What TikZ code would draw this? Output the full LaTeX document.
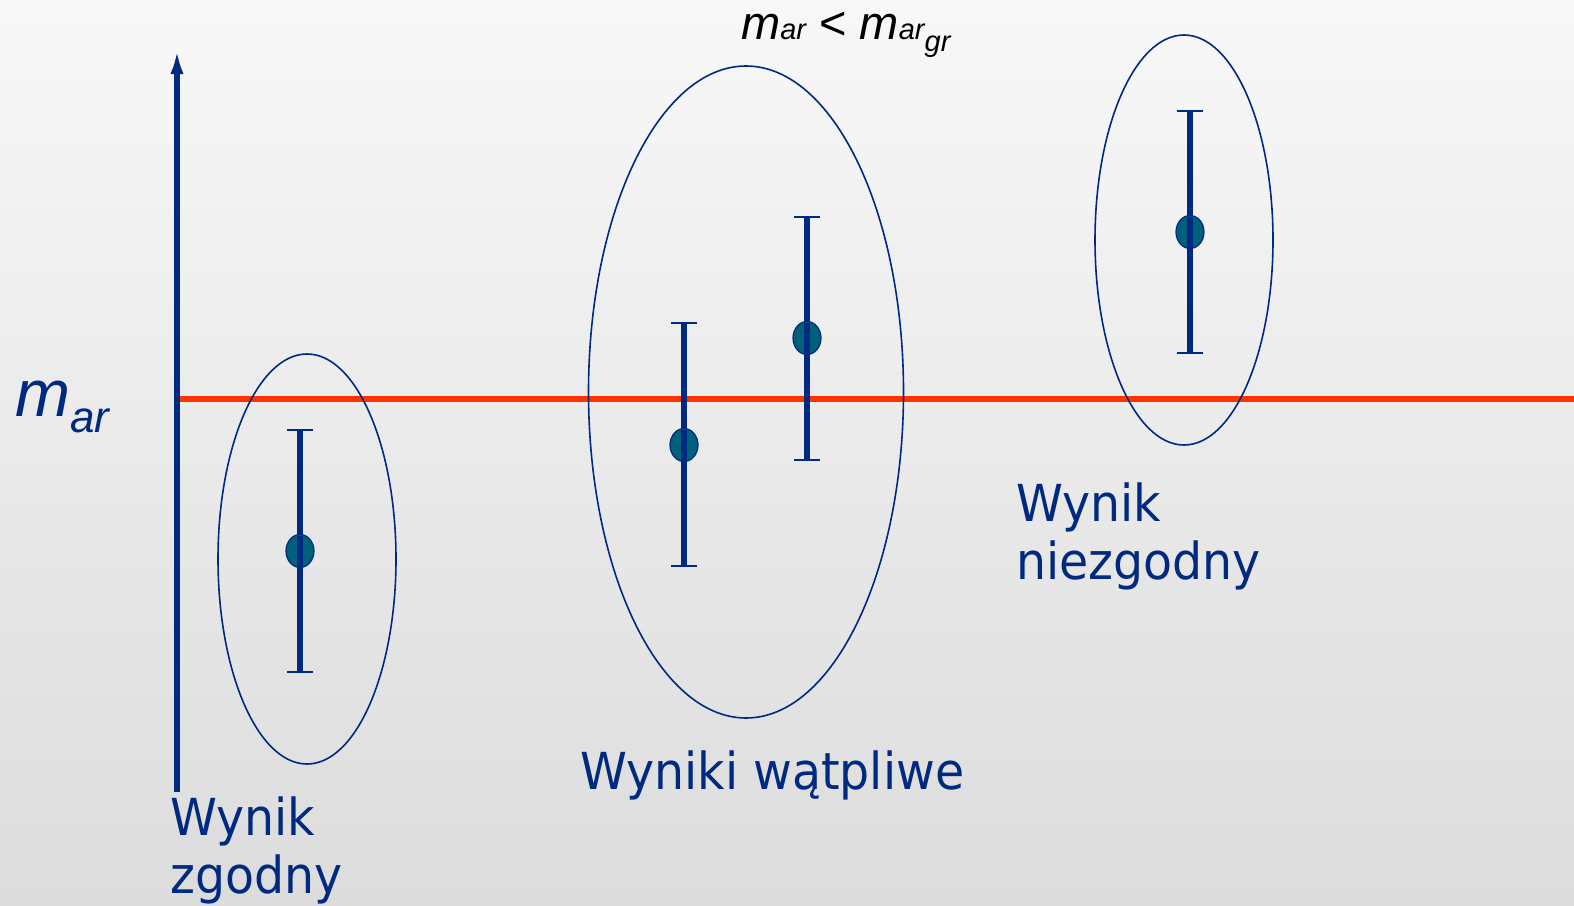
\documentclass[tikz,border=0pt]{standalone}
\usepackage{fontspec}
\setmainfont{DejaVu Sans}
\newfontfamily\lblfont{DejaVu Sans}[FakeStretch=0.93]
\newfontfamily\ari{Liberation Sans}
\usetikzlibrary{arrows.meta}
\definecolor{navy}{RGB}{0,41,128}
\definecolor{redline}{RGB}{255,51,0}
\definecolor{dotfill}{RGB}{0,95,122}
\definecolor{bgtop}{RGB}{248,248,248}
\definecolor{bgbot}{RGB}{220,220,220}
\tikzset{
  grp/.style={draw=navy, line width=1.6pt},
  bar/.style={draw=navy, line width=6pt},
  capline/.style={draw=navy, line width=2.4pt},
  dot/.style={draw=navy, line width=1.2pt, fill=dotfill},
  lbl/.style={text=navy, font=\lblfont\fontsize{51}{58}\selectfont, align=left, inner sep=0pt}
}
\begin{document}
\begin{tikzpicture}[x=1pt,y=-1pt]
\useasboundingbox (0,0) rectangle (1574,905);
\shade[top color=bgtop, bottom color=bgbot] (0,0) rectangle (1574,905);
% axes
\coordinate (ab) at (177,792);
\coordinate (at) at (177,48);
\coordinate (rl) at (177,399);
\coordinate (rr) at (1574,399);
\draw[redline, line width=5.5pt] (rl) -- (rr);
\draw[navy, line width=6pt, -{Latex[length=26pt,width=13pt]}] (ab) -- (at);
% ellipses
\draw[grp] (307,559) ellipse [x radius=89, y radius=205];
\draw[grp] (746,392) ellipse [x radius=157.5, y radius=326];
\draw[grp] (1184,240) ellipse [x radius=89, y radius=205];
% error bars
\foreach \x/\t/\m/\b [count=\i] in {300/430/551/672, 684/323/445/566, 807/217/338/460, 1190/111/232/353}{
  \coordinate (t\i) at (\x,\t);
  \coordinate (b\i) at (\x,\b);
  \draw[bar] (t\i) -- (b\i);
  \draw[capline] ([xshift=-13pt]t\i) -- ([xshift=13pt]t\i);
  \draw[capline] ([xshift=-13pt]b\i) -- ([xshift=13pt]b\i);
  \draw[dot] (\x,\m) ellipse [x radius=14, y radius=16.5];
  \draw[navy, line width=6pt] (\x,\m-15.5) -- (\x,\m+15.5);
}
% labels
\node[anchor=base west, inner sep=0pt, text=navy] (mleft) at (15,416)
  {\ari\itshape\fontsize{66}{66}\selectfont m\raisebox{-16pt}{\fontsize{44}{44}\selectfont ar}};
\node[anchor=base west, inner sep=0pt, text=black] (mtop) at (741,39)
  {\ari\itshape\fontsize{47}{47}\selectfont m{\fontsize{29}{29}\selectfont ar} {\upshape<} m{\fontsize{29}{29}\selectfont ar\raisebox{-12pt}{gr}}};
\node[lbl, anchor=north west] (zg) at (170,797) {Wynik\\zgodny};
\node[lbl, anchor=north west] (wa) at (580,751) {Wyniki wątpliwe};
\node[lbl, anchor=north west] (nz) at (1016,483) {Wynik\\niezgodny};
\end{tikzpicture}
\end{document}
